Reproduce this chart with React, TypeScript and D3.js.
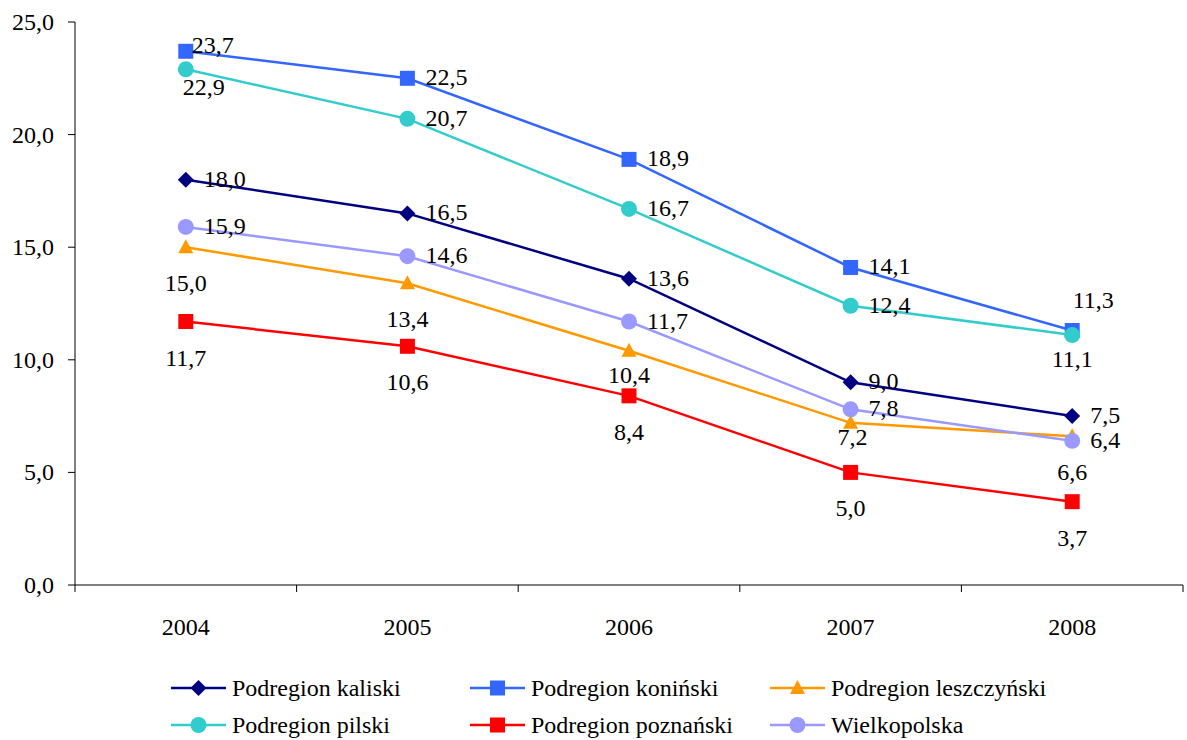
import React from "react";
import * as d3 from "d3";

const years = ["2004", "2005", "2006", "2007", "2008"];

const seriesNames = [
  "Podregion kaliski",
  "Podregion koniński",
  "Podregion leszczyński",
  "Podregion pilski",
  "Podregion poznański",
  "Wielkopolska",
];

const kaliski = [18.0, 16.5, 13.6, 9.0, 7.5];
const koninski = [23.7, 22.5, 18.9, 14.1, 11.3];
const leszczynski = [15.0, 13.4, 10.4, 7.2, 6.6];
const pilski = [22.9, 20.7, 16.7, 12.4, 11.1];
const poznanski = [11.7, 10.6, 8.4, 5.0, 3.7];
const wielkopolska = [15.9, 14.6, 11.7, 7.8, 6.4];

const yTicks = [0, 5, 10, 15, 20, 25];

// where each value label sits relative to its marker
const labelPlaces = [
  ["R", "R", "R", "R", "R"],
  ["r", "R", "R", "R", "A"],
  ["B", "B", "M", "N", "B"],
  ["D", "R", "R", "R", "M"],
  ["B", "B", "B", "B", "B"],
  ["R", "R", "R", "R", "R"],
];

const colors = ["#000080", "#3366FF", "#FF9900", "#33CCCC", "#FF0000", "#9999FF"];
const markers = ["diamond", "square", "triangle", "circle", "square", "circle"];

const allValues = [kaliski, koninski, leszczynski, pilski, poznanski, wielkopolska];

const FONT = "Liberation Serif, DejaVu Serif, serif";

const markerPath = (kind: string) => {
  if (kind === "diamond") return "M0,-8L8,0L0,8L-8,0Z";
  if (kind === "square") return d3.symbol(d3.symbolSquare, 225)() as string;
  if (kind === "triangle") return "M0,-8L7.5,6L-7.5,6Z";
  return d3.symbol(d3.symbolCircle, 200)() as string;
};

const labelOffset = (code: string) => {
  switch (code) {
    case "R":
      return { dx: 18, dy: 7, anchor: "start" };
    case "r":
      return { dx: 6, dy: 2, anchor: "start" };
    case "A":
      return { dx: 21, dy: -23, anchor: "middle" };
    case "B":
      return { dx: 0, dy: 44, anchor: "middle" };
    case "M":
      return { dx: 0, dy: 32, anchor: "middle" };
    case "N":
      return { dx: 2, dy: 22, anchor: "middle" };
    case "D":
      return { dx: 18, dy: 26, anchor: "middle" };
    default:
      return { dx: 18, dy: 7, anchor: "start" };
  }
};

const fmt = (v: number) => d3.format(".1f")(v).replace(".", ",");

export default function App() {
  const width = 1187;
  const height = 740;
  const left = 75;
  const right = 1183;
  const top = 22;
  const bottom = 585;

  const x = d3.scaleBand().domain(years).range([left, right]).padding(0);
  const y = d3.scaleLinear().domain([0, 25]).range([bottom, top]);
  const cx = (yr: string) => (x(yr) as number) + x.bandwidth() / 2;

  const line = d3
    .line<number>()
    .x((_, i) => cx(years[i]))
    .y((d) => y(d));

  const boundaries = years.map((yr) => x(yr) as number).concat([right]);

  const legendCols = [171, 470, 770];
  const legendRows = [688, 725];

  return (
    <svg
      width={width}
      height={height}
      fontFamily={FONT}
      fontSize={24}
      style={{ position: "absolute", left: 0, top: 0, background: "#fff" }}
    >
      {/* axes */}
      <line x1={left} x2={left} y1={top} y2={bottom} stroke="#000" strokeWidth={1} />
      <line x1={left} x2={right} y1={bottom} y2={bottom} stroke="#000" strokeWidth={1} />
      {yTicks.map((t) => (
        <g key={t}>
          <line x1={left - 7} x2={left} y1={y(t)} y2={y(t)} stroke="#000" />
          <text x={54} y={y(t) + 8} textAnchor="end">
            {fmt(t)}
          </text>
        </g>
      ))}
      {boundaries.map((b, i) => (
        <line key={i} x1={b} x2={b} y1={bottom} y2={bottom + 7} stroke="#000" />
      ))}
      {years.map((yr) => (
        <text key={yr} x={cx(yr)} y={bottom + 50} textAnchor="middle">
          {yr}
        </text>
      ))}

      {/* series */}
      {allValues.map((vals, s) => (
        <g key={s}>
          <path d={line(vals) as string} fill="none" stroke={colors[s]} strokeWidth={2.5} />
          {vals.map((v, i) => (
            <path
              key={i}
              d={markerPath(markers[s])}
              transform={`translate(${cx(years[i])},${y(v)})`}
              fill={colors[s]}
            />
          ))}
        </g>
      ))}

      {/* value labels */}
      {allValues.map((vals, s) =>
        vals.map((v, i) => {
          const o = labelOffset(labelPlaces[s][i]);
          return (
            <text
              key={`${s}-${i}`}
              x={cx(years[i]) + o.dx}
              y={y(v) + o.dy}
              textAnchor={o.anchor}
            >
              {fmt(v)}
            </text>
          );
        })
      )}

      {/* legend */}
      {seriesNames.map((name, s) => {
        const lx = legendCols[s % 3];
        const ly = legendRows[Math.floor(s / 3)];
        return (
          <g key={name} transform={`translate(${lx},${ly})`}>
            <line x1={0} x2={55} y1={0} y2={0} stroke={colors[s]} strokeWidth={2.5} />
            <path d={markerPath(markers[s])} transform="translate(27.5,0)" fill={colors[s]} />
            <text x={61} y={8}>
              {name}
            </text>
          </g>
        );
      })}
    </svg>
  );
}
